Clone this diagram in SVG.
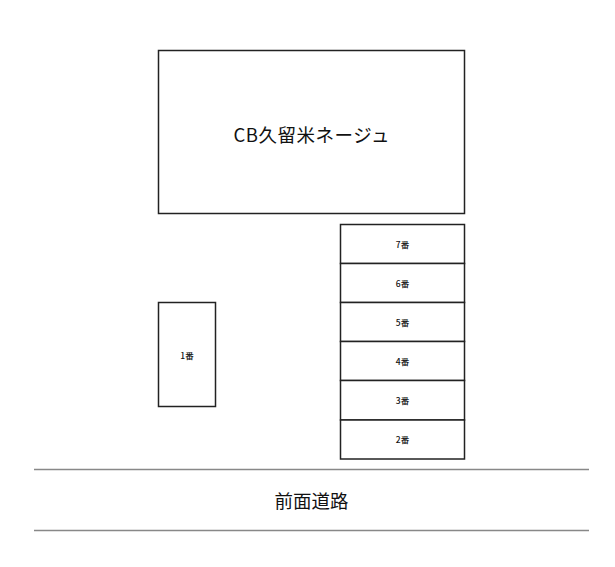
<svg xmlns="http://www.w3.org/2000/svg" width="615" height="567" viewBox="0 0 615 567">
<style>
.box{fill:#fff;stroke:#222;stroke-width:1.5}
.road{stroke:#888;stroke-width:1.5}
text{font-family:"Noto Sans CJK JP","Noto Sans",sans-serif;fill:#111;text-anchor:middle;dominant-baseline:central}
.big{font-size:18.5px;font-weight:400}
.sm{font-size:8.5px;font-weight:500}
</style>
<rect width="615" height="567" fill="#fff"/>
<g id="building">
<rect class="box" x="158.5" y="50.5" width="306" height="163"/>
<text class="big" x="311.5" y="134" textLength="156" lengthAdjust="spacing">CB久留米ネージュ</text>
</g>
<g id="slot7"><rect class="box" x="340.5" y="224.5" width="124" height="39"/><text class="sm" x="402.5" y="243.5">7番</text></g>
<g id="slot6"><rect class="box" x="340.5" y="263.5" width="124" height="39"/><text class="sm" x="402.5" y="282.5">6番</text></g>
<g id="slot5"><rect class="box" x="340.5" y="302.5" width="124" height="39"/><text class="sm" x="402.5" y="321.5">5番</text></g>
<g id="slot4"><rect class="box" x="340.5" y="341.5" width="124" height="39"/><text class="sm" x="402.5" y="360.5">4番</text></g>
<g id="slot3"><rect class="box" x="340.5" y="380.5" width="124" height="39.5"/><text class="sm" x="402.5" y="399.5">3番</text></g>
<g id="slot2"><rect class="box" x="340.5" y="420" width="124" height="39"/><text class="sm" x="402.5" y="439">2番</text></g>
<g id="slot1"><rect class="box" x="158.5" y="302.5" width="57" height="104"/><text class="sm" x="187" y="354.5">1番</text></g>
<g id="road">
<line class="road" x1="34" y1="469.5" x2="589" y2="469.5"/>
<line class="road" x1="34" y1="530.5" x2="589" y2="530.5"/>
<text class="big" x="311.5" y="500">前面道路</text>
</g>
</svg>
